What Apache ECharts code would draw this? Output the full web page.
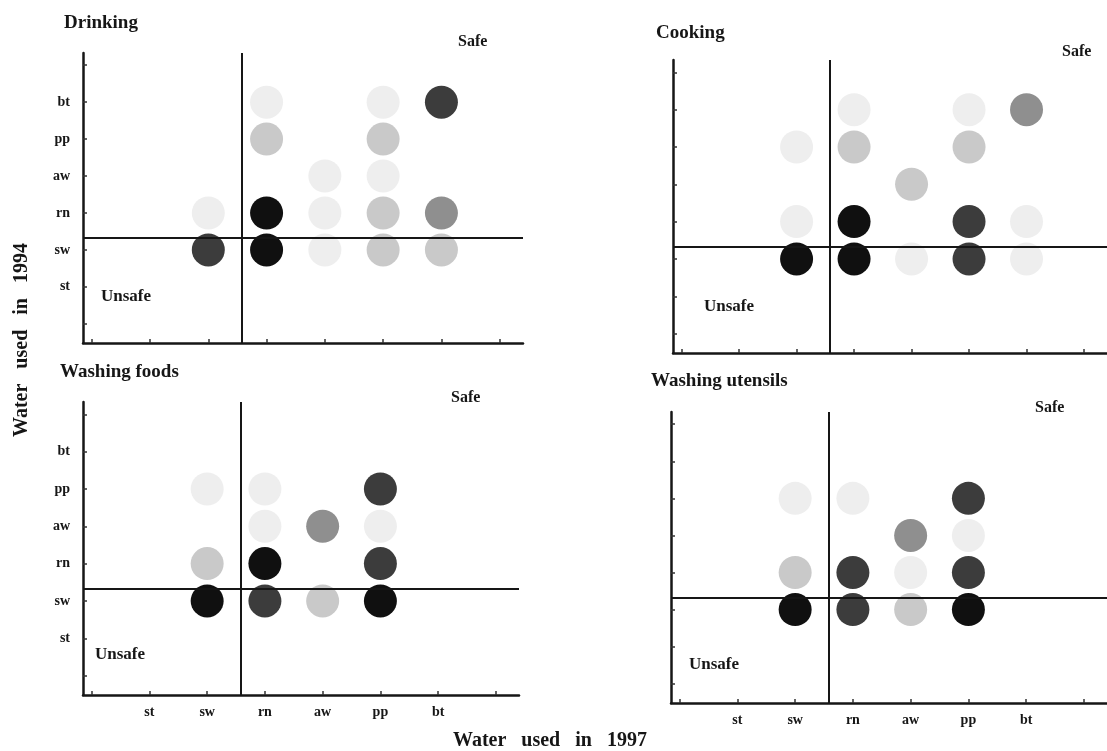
<!DOCTYPE html>
<html>
<head>
<meta charset="utf-8">
<title>Water sources used in 1994 and 1997</title>
<script src="https://cdn.jsdelivr.net/npm/echarts@6/dist/echarts.min.js"></script>
<style>
  html, body { margin: 0; padding: 0; background: #fff; }
  #chart { width: 1107px; height: 751px; }
</style>
</head>
<body>
<div id="chart"></div>
<script>
// Water source categories, in axis order (position 1..6)
const categories = ['st', 'sw', 'rn', 'aw', 'pp', 'bt'];

// Each entry: [source used in 1997, source used in 1994, share level 1 (few) .. 5 (most)]
const drinking = [
  ['sw', 'sw', 4], ['sw', 'rn', 1],
  ['rn', 'rn', 5], ['rn', 'sw', 5], ['rn', 'pp', 2], ['rn', 'bt', 1],
  ['aw', 'aw', 1], ['aw', 'rn', 1], ['aw', 'sw', 1],
  ['pp', 'bt', 1], ['pp', 'pp', 2], ['pp', 'aw', 1], ['pp', 'rn', 2], ['pp', 'sw', 2],
  ['bt', 'bt', 4], ['bt', 'rn', 3], ['bt', 'sw', 2]
];
const cooking = [
  ['sw', 'sw', 5], ['sw', 'rn', 1], ['sw', 'pp', 1],
  ['rn', 'rn', 5], ['rn', 'sw', 5], ['rn', 'pp', 2], ['rn', 'bt', 1],
  ['aw', 'aw', 2], ['aw', 'sw', 1],
  ['pp', 'bt', 1], ['pp', 'pp', 2], ['pp', 'rn', 4], ['pp', 'sw', 4],
  ['bt', 'bt', 3], ['bt', 'rn', 1], ['bt', 'sw', 1]
];
const washingFoods = [
  ['sw', 'sw', 5], ['sw', 'rn', 2], ['sw', 'pp', 1],
  ['rn', 'rn', 5], ['rn', 'sw', 4], ['rn', 'aw', 1], ['rn', 'pp', 1],
  ['aw', 'aw', 3], ['aw', 'sw', 2],
  ['pp', 'pp', 4], ['pp', 'aw', 1], ['pp', 'rn', 4], ['pp', 'sw', 5]
];
const washingUtensils = [
  ['sw', 'sw', 5], ['sw', 'rn', 2], ['sw', 'pp', 1],
  ['rn', 'rn', 4], ['rn', 'sw', 4], ['rn', 'pp', 1],
  ['aw', 'aw', 3], ['aw', 'rn', 1], ['aw', 'sw', 2],
  ['pp', 'pp', 4], ['pp', 'aw', 1], ['pp', 'rn', 4], ['pp', 'sw', 5]
];

// Safe / unsafe cut-offs on both axes
const safeCutX = 2.58;
const safeCutY = 2.32;

const panelTitles = ['Drinking', 'Cooking', 'Washing foods', 'Washing utensils'];
const panelData = [drinking, cooking, washingFoods, washingUtensils];

// Grey tone for each share level
const levelColor = { 1: '#eeeeee', 2: '#c9c9c9', 3: '#8f8f8f', 4: '#3c3c3c', 5: '#101010' };

const grids = [
  { left: 83, top: 53, width: 440, height: 290 },
  { left: 673, top: 60, width: 434, height: 293 },
  { left: 83, top: 402, width: 436, height: 293 },
  { left: 671, top: 412, width: 436, height: 291 }
];

const serif = 'Liberation Serif';
const ink = '#161616';
const tickValues = [0, 1, 2, 3, 4, 5, 6, 7];
const labelValues = [1, 2, 3, 4, 5, 6];

function axisBase(showLabels, margin) {
  return {
    type: 'value',
    splitLine: { show: false },
    axisLine: { show: true, onZero: false, lineStyle: { color: ink, width: 2.5 } },
    axisTick: { show: true, inside: true, length: 4, customValues: tickValues,
                lineStyle: { color: '#333', width: 1.5 } },
    axisLabel: { show: showLabels, customValues: labelValues, margin: margin,
                 fontFamily: serif, fontWeight: 'bold', fontSize: 14, color: ink,
                 formatter: v => categories[Math.round(v) - 1] || '' }
  };
}

const xAxis = grids.map((g, i) => Object.assign(axisBase(i >= 2, 10), {
  gridIndex: i, min: -0.15, max: 7.4
}));
const yAxis = grids.map((g, i) => Object.assign(axisBase(i % 2 === 0, 13), {
  gridIndex: i, min: -0.52, max: 7.33
}));

const series = panelData.map((rows, i) => ({
  type: 'scatter',
  xAxisIndex: i,
  yAxisIndex: i,
  symbol: 'circle',
  symbolSize: 33,
  silent: true,
  z: 3,
  data: rows.map(r => ({
    value: [categories.indexOf(r[0]) + 1, categories.indexOf(r[1]) + 1],
    itemStyle: { color: levelColor[r[2]], opacity: 1 }
  })),
  markLine: {
    silent: true,
    symbol: 'none',
    animation: false,
    label: { show: false },
    lineStyle: { color: ink, width: 2, type: 'solid', opacity: 1 },
    data: [{ xAxis: safeCutX }, { yAxis: safeCutY }]
  }
}));

function txt(text, x, y, size, opts) {
  return Object.assign({
    type: 'text', x: x, y: y, z: 10,
    style: { text: text, fontFamily: serif, fontWeight: 'bold', fontSize: size,
             fill: ink, textAlign: 'left', textVerticalAlign: 'middle' }
  }, opts || {});
}

const graphic = [
  txt(panelTitles[0], 64, 23, 19),
  txt(panelTitles[1], 656, 33, 19),
  txt(panelTitles[2], 60, 372, 19),
  txt(panelTitles[3], 651, 381, 19),
  txt('Safe', 458, 42, 16),
  txt('Safe', 1062, 52, 16),
  txt('Safe', 451, 398, 16),
  txt('Safe', 1035, 408, 16),
  txt('Unsafe', 101, 297, 17),
  txt('Unsafe', 704, 307, 17),
  txt('Unsafe', 95, 655, 17),
  txt('Unsafe', 689, 665, 17),
  txt('Water   used   in   1997', 453, 741, 20),
  txt('Water   used   in   1994', 22, 340, 20, { rotation: Math.PI / 2 })
];
// centre the rotated axis title on its anchor point
graphic[graphic.length - 1].style.textAlign = 'center';

const chart = echarts.init(document.getElementById('chart'), null, { renderer: 'canvas' });
chart.setOption({
  backgroundColor: '#ffffff',
  animation: false,
  grid: grids,
  xAxis: xAxis,
  yAxis: yAxis,
  series: series,
  graphic: graphic
});
</script>
</body>
</html>
